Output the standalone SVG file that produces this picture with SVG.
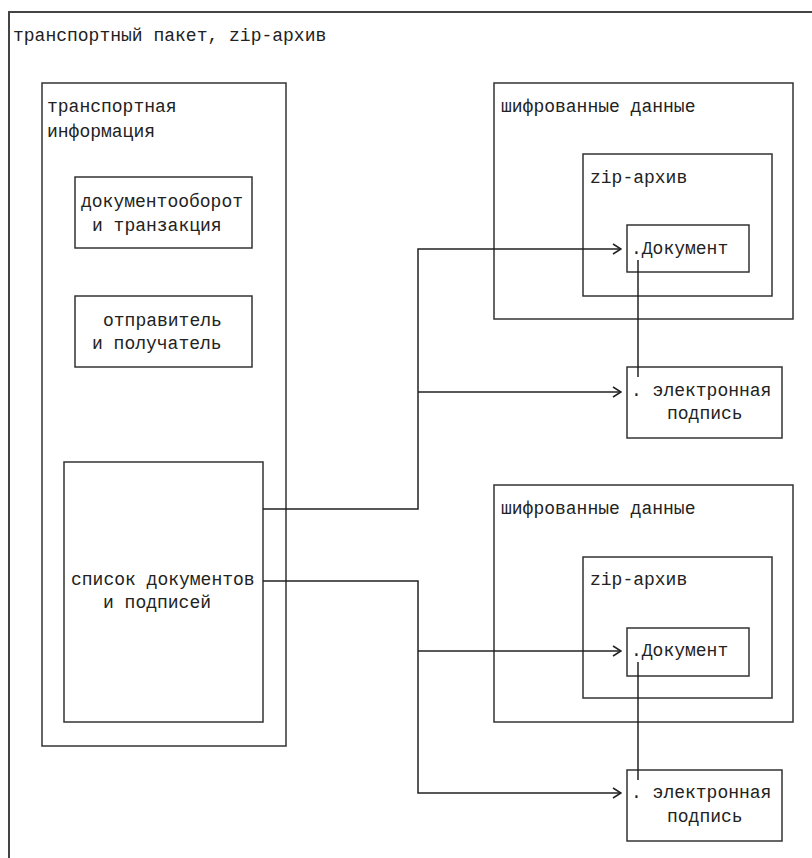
<svg xmlns="http://www.w3.org/2000/svg" width="812" height="858" viewBox="0 0 812 858">
<defs>
<style>
.box{fill:none;stroke:#333;stroke-width:1.5}
.outer{fill:none;stroke:#444;stroke-width:2}
.t{font-family:"Liberation Mono","Courier New",monospace;font-size:18px;fill:#222}
.c{fill:none;stroke:#222;stroke-width:1.5}
</style>
<marker id="arr" viewBox="0 0 10 12" refX="9" refY="6" markerWidth="10" markerHeight="12" markerUnits="userSpaceOnUse" orient="auto">
<polyline points="1,1 9,6 1,11" fill="none" stroke="#222" stroke-width="1.5"/>
</marker>
</defs>
<rect width="812" height="858" fill="#fff"/>
<g id="package">
<rect class="outer" x="9" y="12" width="820" height="860"/>
<text class="t" x="13" y="41">транспортный пакет, zip-архив</text>
</g>
<g id="transport-info">
<rect class="box" x="42" y="83" width="244" height="663"/>
<text class="t" x="47" y="112">транспортная</text>
<text class="t" x="47" y="137">информация</text>
</g>
<g id="docflow">
<rect class="box" x="75" y="177" width="177" height="71"/>
<text class="t" x="81" y="207">документооборот</text>
<text class="t" x="92" y="231">и транзакция</text>
</g>
<g id="sender">
<rect class="box" x="75" y="296" width="177" height="71"/>
<text class="t" x="103" y="326">отправитель</text>
<text class="t" x="92" y="349">и получатель</text>
</g>
<g id="list">
<rect class="box" x="64" y="462" width="199" height="260"/>
<text class="t" x="71" y="585">список документов</text>
<text class="t" x="103" y="608">и подписей</text>
</g>
<g id="enc1">
<rect class="box" x="494" y="83" width="299" height="236"/>
<text class="t" x="501" y="112">шифрованные данные</text>
</g>
<g id="zip1">
<rect class="box" x="583" y="154" width="189" height="142"/>
<text class="t" x="590" y="183">zip-архив</text>
</g>
<g id="doc1">
<rect class="box" x="627" y="225" width="122" height="47"/>
<text class="t" x="631" y="254">.Документ</text>
</g>
<g id="sig1">
<rect class="box" x="627" y="367" width="155" height="71"/>
<text class="t" x="631" y="396">. электронная</text>
<text class="t" x="667" y="419">подпись</text>
</g>
<g id="enc2">
<rect class="box" x="494" y="485" width="299" height="237"/>
<text class="t" x="501" y="514">шифрованные данные</text>
</g>
<g id="zip2">
<rect class="box" x="583" y="557" width="189" height="141"/>
<text class="t" x="590" y="585">zip-архив</text>
</g>
<g id="doc2">
<rect class="box" x="627" y="628" width="122" height="48"/>
<text class="t" x="631" y="656">.Документ</text>
</g>
<g id="sig2">
<rect class="box" x="627" y="770" width="155" height="71"/>
<text class="t" x="631" y="798">. электронная</text>
<text class="t" x="667" y="822">подпись</text>
</g>
<g id="connectors">
<polyline class="c" points="263,509 418,509 418,249 621,249" marker-end="url(#arr)"/>
<polyline class="c" points="418,392 621,392" marker-end="url(#arr)"/>
<polyline class="c" points="263,581 418,581 418,793 621,793" marker-end="url(#arr)"/>
<polyline class="c" points="418,651 621,651" marker-end="url(#arr)"/>
<line class="c" x1="638" y1="260" x2="638" y2="377"/>
<line class="c" x1="638" y1="662" x2="638" y2="780"/>
</g>
</svg>
